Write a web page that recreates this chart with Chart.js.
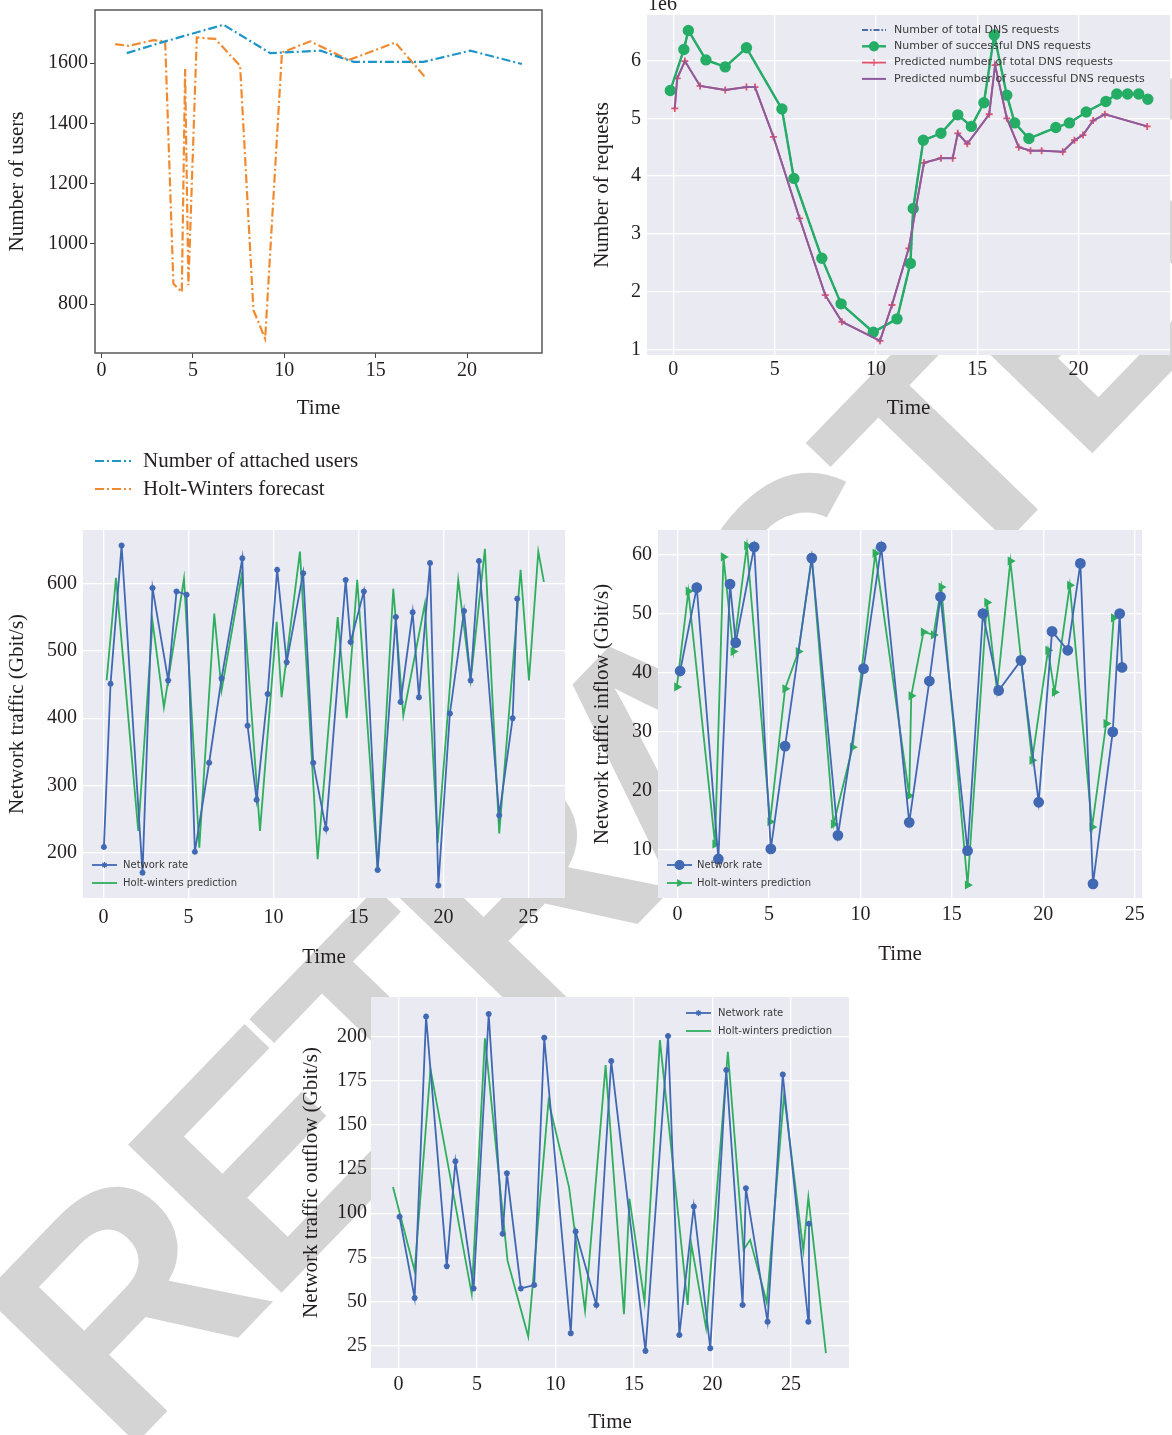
<!DOCTYPE html>
<html>
<head>
<meta charset="utf-8">
<script src="https://cdn.jsdelivr.net/npm/chart.js@4.4.0/dist/chart.umd.min.js"></script>
<style>
  html, body { margin: 0; padding: 0; background: #fff; }
  body { width: 1172px; height: 1435px; position: relative; overflow: hidden; }
  svg.stamp { position: absolute; left: 0; top: 0; }
  canvas { position: absolute; }
  #c1 { left: 0; top: 0; }
  #c2 { left: 580px; top: 0; }
  #c3 { left: 0; top: 515px; }
  #c4 { left: 580px; top: 515px; }
  #c5 { left: 290px; top: 985px; }
  .offset { position: absolute; left: 648px; top: -8px; font: 20px "Liberation Serif", serif; color: #231f20; }
</style>
</head>
<body>
<svg class="stamp" width="1172" height="1435">
  <text x="122" y="1458" transform="rotate(-46 122 1458)" font-family="Liberation Sans, Arial, sans-serif"
        font-weight="bold" font-size="310" letter-spacing="-15" fill="#d4d4d4">RETRACTED</text>
</svg>
<canvas id="c1" width="560" height="512"></canvas>
<canvas id="c2" width="597" height="425"></canvas>
<canvas id="c3" width="580" height="460"></canvas>
<canvas id="c4" width="580" height="460"></canvas>
<canvas id="c5" width="580" height="450"></canvas>
<div class="offset">1e6</div>

<script>
// --- users: attached vs Holt-Winters forecast
const usersTime = [1.38, 3.48, 6.67, 9.23, 11.97, 13.79, 17.62, 20.18, 23.0];
const usersAttached = [1633, 1672, 1727, 1633, 1641, 1604, 1604, 1641, 1597];
const usersHwTime = [0.74, 1.47, 2.84, 3.48, 3.93, 4.39, 4.57, 4.75, 5.21, 6.22, 7.58, 8.31, 8.95, 9.87, 11.42, 13.52, 16.07, 17.72];
const usersHw = [1663, 1657, 1676, 1672, 868, 840, 1580, 863, 1685, 1680, 1591, 780, 686, 1635, 1672, 1610, 1668, 1552];
const usersXTicks = [0, 5, 10, 15, 20];
const usersYTicks = [800, 1000, 1200, 1400, 1600];

// --- DNS requests (values in 1e6)
const dnsTime = [-0.15, 0.52, 0.74, 1.61, 2.56, 3.61, 5.36, 5.95, 7.33, 8.28, 9.87, 11.04, 11.7, 11.84, 12.34, 13.21, 14.04, 14.71, 15.33, 15.84, 16.46, 16.85, 17.55, 18.88, 19.55, 20.38, 21.35, 21.89, 22.42, 22.97, 23.42];
const dnsSuccess = [5.48, 6.19, 6.52, 6.01, 5.89, 6.22, 5.16, 3.96, 2.58, 1.79, 1.30, 1.53, 2.49, 3.44, 4.62, 4.74, 5.06, 4.86, 5.27, 6.44, 5.40, 4.92, 4.65, 4.84, 4.92, 5.11, 5.29, 5.42, 5.42, 5.42, 5.33];
const dnsTotal = [5.48, 6.19, 6.52, 6.01, 5.89, 6.22, 5.16, 3.96, 2.58, 1.79, 1.30, 1.53, 2.49, 3.44, 4.62, 4.74, 5.06, 4.86, 5.27, 6.44, 5.40, 4.92, 4.65, 4.84, 4.92, 5.11, 5.29, 5.42, 5.42, 5.42, 5.33];
const predTime = [0.07, 0.19, 0.57, 1.32, 2.56, 3.61, 4.03, 4.94, 6.23, 7.5, 8.32, 10.2, 10.79, 11.62, 12.37, 13.21, 13.79, 14.04, 14.51, 15.59, 15.88, 16.46, 17.05, 17.63, 18.18, 19.22, 19.8, 20.22, 20.72, 21.3, 23.39];
const predTotal = [5.17, 5.69, 5.99, 5.56, 5.49, 5.54, 5.54, 4.68, 3.27, 1.94, 1.48, 1.15, 1.77, 2.75, 4.23, 4.31, 4.31, 4.74, 4.56, 5.07, 5.92, 5.0, 4.5, 4.44, 4.44, 4.42, 4.62, 4.71, 4.96, 5.07, 4.86];
const predSuccess = [5.17, 5.69, 5.99, 5.56, 5.49, 5.54, 5.54, 4.68, 3.27, 1.94, 1.48, 1.15, 1.77, 2.75, 4.23, 4.31, 4.31, 4.74, 4.56, 5.07, 5.92, 5.0, 4.5, 4.44, 4.44, 4.42, 4.62, 4.71, 4.96, 5.07, 4.86];
const dnsXTicks = [0, 5, 10, 15, 20];
const dnsYTicks = [1, 2, 3, 4, 5, 6];

// --- network traffic
const trafficTime = [0.03, 0.42, 1.07, 2.3, 2.89, 3.81, 4.3, 4.89, 5.38, 6.22, 6.95, 8.17, 8.48, 9.01, 9.66, 10.22, 10.78, 11.75, 12.34, 13.09, 14.25, 14.54, 15.32, 16.13, 17.2, 17.48, 18.19, 18.56, 19.21, 19.7, 20.38, 21.21, 21.6, 22.09, 23.28, 24.07, 24.34];
const trafficRate = [209, 451, 656, 171, 593, 456, 588, 583, 202, 334, 459, 637, 389, 279, 436, 620, 483, 615, 334, 236, 605, 513, 588, 175, 550, 424, 557, 431, 630, 152, 407, 559, 456, 633, 256, 400, 577];
const trafficHwTime = [0.19, 0.74, 2.05, 2.89, 3.56, 4.74, 5.64, 6.52, 6.95, 8.13, 9.21, 10.19, 10.48, 11.56, 12.6, 13.78, 14.31, 14.93, 16.13, 17.05, 17.64, 18.91, 19.66, 20.87, 21.6, 22.44, 23.28, 24.54, 25.03, 25.58, 25.91];
const trafficHw = [456, 608, 233, 543, 416, 607, 208, 555, 441, 612, 233, 543, 431, 647, 191, 550, 400, 605, 175, 592, 404, 570, 215, 605, 456, 651, 229, 620, 456, 647, 602];
const trafficXTicks = [0, 5, 10, 15, 20, 25];
const trafficYTicks = [200, 300, 400, 500, 600];

// --- network traffic inflow
const inflowTime = [0.14, 1.05, 2.23, 2.87, 3.18, 4.19, 5.1, 5.88, 7.34, 8.77, 10.17, 11.14, 12.67, 13.77, 14.38, 15.86, 16.7, 17.56, 18.78, 19.75, 20.48, 21.34, 22.03, 22.72, 23.8, 24.18, 24.31];
const inflowRate = [40.3, 54.4, 8.5, 55, 45.1, 61.3, 10.2, 27.6, 59.4, 12.5, 40.7, 61.3, 14.7, 38.6, 52.85, 9.9, 50, 37, 42.1, 18.1, 47, 43.8, 58.5, 4.3, 30, 50, 40.9];
const inflowHwTime = [-0.04, 0.59, 2.05, 2.51, 3.05, 3.79, 5.06, 5.88, 6.61, 7.34, 8.53, 9.57, 10.81, 12.67, 12.78, 13.45, 14.0, 14.42, 15.86, 16.92, 17.47, 18.2, 19.39, 20.26, 20.62, 21.45, 22.67, 23.44, 23.85];
const inflowHw = [37.6, 53.8, 11, 59.6, 43.6, 61.5, 14.8, 37.3, 43.6, 59.5, 14.4, 27.4, 60.2, 19.2, 36.1, 46.9, 46.4, 54.5, 4.1, 51.9, 37, 58.9, 25.2, 43.8, 36.7, 54.8, 13.9, 31.4, 49.3];
const inflowXTicks = [0, 5, 10, 15, 20, 25];
const inflowYTicks = [10, 20, 30, 40, 50, 60];

// --- network traffic outflow
const outflowTime = [0.06, 1.02, 1.75, 3.07, 3.62, 4.78, 5.74, 6.63, 6.9, 7.79, 8.64, 9.28, 10.97, 11.28, 12.6, 13.55, 15.73, 17.17, 17.89, 18.81, 19.86, 20.88, 21.92, 22.13, 23.51, 24.48, 26.11, 26.15];
const outflowRate = [98, 52, 211.4, 70, 129.4, 57.4, 212.9, 88.3, 122.7, 57.4, 59.3, 199.4, 32, 89.6, 48, 186.2, 22, 200.4, 31, 103.8, 23.5, 181.1, 48, 114.2, 38.5, 178.6, 38.5, 94];
const outflowHwTime = [-0.36, 1.02, 2.03, 4.66, 5.5, 6.94, 8.26, 9.55, 10.86, 11.88, 13.19, 14.36, 14.71, 15.67, 16.65, 18.42, 18.65, 19.59, 20.98, 21.98, 22.4, 23.46, 24.56, 25.79, 26.11, 27.23];
const outflowHw = [114.8, 67.4, 181.6, 54.2, 199.1, 73.1, 30.1, 163.5, 114.8, 44.7, 183.9, 42.8, 108.2, 49.8, 198.1, 48, 82.6, 35.2, 191.5, 79.2, 84.9, 49.4, 167, 78.8, 109.1, 20.7];
const outflowXTicks = [0, 5, 10, 15, 20, 25];
const outflowYTicks = [25, 50, 75, 100, 125, 150, 175, 200];

const zip = (xs, ys) => xs.map((x, i) => ({ x: x, y: ys[i] }));
const SERIF = '"Liberation Serif", "Times New Roman", serif';
const INK = '#231f20';
const BLUE = '#4169b3';
const GREEN = '#2fae5e';

// draws a matplotlib-like legend at fixed canvas spots
const sampleLegend = {
  id: 'sampleLegend',
  afterDraw(chart, args, o) {
    if (!o.show) return;
    const ctx = chart.ctx;
    ctx.save();
    chart.data.datasets.forEach((ds, i) => {
      const y = o.y + i * o.rowGap;
      ctx.strokeStyle = ds.borderColor;
      ctx.fillStyle = ds.borderColor;
      ctx.lineWidth = ds.borderWidth;
      ctx.setLineDash(ds.borderDash || []);
      ctx.beginPath();
      ctx.moveTo(o.x, y);
      ctx.lineTo(o.x + o.len, y);
      ctx.stroke();
      ctx.setLineDash([]);
      if (ds.pointRadius > 0) {
        ctx.lineWidth = 1.2;
        Chart.helpers.drawPoint(ctx, { pointStyle: ds.pointStyle, radius: ds.pointRadius, borderWidth: 1.2, rotation: ds.pointRotation || 0 }, o.x + o.len / 2, y);
      }
      ctx.fillStyle = o.color;
      ctx.font = o.font;
      ctx.textBaseline = 'middle';
      ctx.fillText(ds.label, o.x + o.len + o.gap, y);
    });
    ctx.restore();
  }
};

// grey seaborn background or black box frame
const panel = {
  id: 'panel',
  beforeDraw(chart, args, o) {
    if (!o.fill) return;
    const a = chart.chartArea, ctx = chart.ctx;
    ctx.save();
    ctx.fillStyle = o.fill;
    ctx.fillRect(a.left, a.top, a.right - a.left, a.bottom - a.top);
    ctx.restore();
  },
  afterDraw(chart, args, o) {
    if (!o.frame) return;
    const a = chart.chartArea, ctx = chart.ctx;
    ctx.save();
    ctx.strokeStyle = o.frame;
    ctx.lineWidth = 1.5;
    ctx.strokeRect(a.left, a.top, a.right - a.left, a.bottom - a.top);
    ctx.restore();
  }
};

function fixedTicks(list) {
  return scale => { scale.ticks = list.map(v => ({ value: v })); };
}

function makeChart(id, cfg) {
  const seaborn = cfg.seaborn;
  const grid = seaborn
    ? { color: '#ffffff', lineWidth: 1.3, drawTicks: false }
    : { drawOnChartArea: false, drawTicks: true, tickLength: 5, color: '#444' };
  return new Chart(document.getElementById(id), {
    type: 'line',
    data: { datasets: cfg.datasets },
    options: {
      responsive: false,
      animation: false,
      events: [],
      layout: { padding: cfg.padding },
      scales: {
        x: {
          type: 'linear', min: cfg.x.min, max: cfg.x.max,
          afterBuildTicks: fixedTicks(cfg.x.ticks),
          afterFit: s => { s.height = cfg.x.size; s.paddingLeft = 0; s.paddingRight = 0; },
          grid: grid, border: { display: false },
          ticks: { color: INK, font: { family: SERIF, size: 20 }, padding: cfg.x.tickPad, maxRotation: 0, callback: v => String(v) },
          title: { display: true, text: 'Time', color: INK, font: { family: SERIF, size: 21 }, padding: { top: 0, bottom: cfg.x.titlePad } }
        },
        y: {
          type: 'linear', min: cfg.y.min, max: cfg.y.max,
          afterBuildTicks: fixedTicks(cfg.y.ticks),
          afterFit: s => { s.width = cfg.y.size; s.paddingTop = 0; s.paddingBottom = 0; },
          grid: grid, border: { display: false },
          ticks: { color: INK, font: { family: SERIF, size: 20 }, padding: cfg.y.tickPad, callback: v => String(v) },
          title: { display: true, text: cfg.y.title, color: INK, font: { family: SERIF, size: 21 }, padding: { top: cfg.y.titlePad, bottom: 0 } }
        }
      },
      plugins: {
        legend: { display: false },
        tooltip: { enabled: false },
        panel: seaborn ? { fill: '#eaeaf2' } : { frame: '#595959' },
        sampleLegend: cfg.legend
      }
    },
    plugins: [panel, sampleLegend]
  });
}

function line(label, xs, ys, color, extra) {
  return Object.assign({
    label: label, data: zip(xs, ys), borderColor: color, backgroundColor: color,
    pointBackgroundColor: color, pointBorderColor: color,
    borderWidth: 1.8, pointRadius: 0, tension: 0, fill: false
  }, extra || {});
}

makeChart('c1', {
  seaborn: false,
  padding: { left: 0, top: 10, right: 18, bottom: 0 },
  x: { min: -0.36, max: 24.1, ticks: usersXTicks, size: 159, tickPad: 1, titlePad: 91 },
  y: { min: 638, max: 1776, ticks: usersYTicks, size: 95, tickPad: 2, titlePad: 5, title: 'Number of users' },
  datasets: [
    line('Number of attached users', usersTime, usersAttached, '#1e95c8', { borderWidth: 2.2, borderDash: [9, 3, 2, 3] }),
    line('Holt-Winters forecast', usersHwTime, usersHw, '#f08a30', { borderWidth: 2.2, borderDash: [9, 3, 2, 3] })
  ],
  legend: { show: true, x: 95, y: 461, rowGap: 28, len: 36, gap: 12, font: '21px ' + SERIF, color: INK }
});

makeChart('c2', {
  seaborn: true,
  padding: { left: 0, top: 15, right: 0, bottom: 0 },
  x: { min: -1.3, max: 24.52, ticks: dnsXTicks, size: 70, tickPad: 3, titlePad: 4 },
  y: { min: 0.905, max: 6.787, ticks: dnsYTicks, size: 67, tickPad: 6, titlePad: 10, title: 'Number of requests' },
  datasets: [
    line('Number of total DNS requests', dnsTime, dnsTotal, '#4a6aa8', { borderDash: [6, 2, 1.5, 2], order: 4 }),
    line('Number of successful DNS requests', dnsTime, dnsSuccess, '#25ad66', { borderWidth: 2.4, pointRadius: 4.5, order: 2 }),
    line('Predicted number of total DNS requests', predTime, predTotal, '#e4536e', { pointStyle: 'cross', pointRadius: 3.5, order: 3 }),
    line('Predicted number of successful DNS requests', predTime, predSuccess, '#8d5c9c', { borderWidth: 2, order: 1 })
  ],
  legend: { show: true, x: 282, y: 30, rowGap: 16.3, len: 24, gap: 8, font: '11px "DejaVu Sans", sans-serif', color: '#3a3a3a' }
});

makeChart('c3', {
  seaborn: true,
  padding: { left: 0, top: 15, right: 15, bottom: 0 },
  x: { min: -1.2, max: 27.15, ticks: trafficXTicks, size: 77, tickPad: 8, titlePad: 5 },
  y: { min: 133.5, max: 679, ticks: trafficYTicks, size: 83, tickPad: 6, titlePad: 5, title: 'Network traffic (Gbit/s)' },
  datasets: [
    line('Network rate', trafficTime, trafficRate, BLUE, { pointStyle: 'star', pointRadius: 3 }),
    line('Holt-winters prediction', trafficHwTime, trafficHw, GREEN, {})
  ],
  legend: { show: true, x: 92, y: 350, rowGap: 18, len: 25, gap: 6, font: '10px "DejaVu Sans", sans-serif', color: '#3a3a3a' }
});

makeChart('c4', {
  seaborn: true,
  padding: { left: 0, top: 15, right: 18, bottom: 0 },
  x: { min: -1.07, max: 25.4, ticks: inflowXTicks, size: 77, tickPad: 5, titlePad: 8 },
  y: { min: 1.9, max: 64.15, ticks: inflowYTicks, size: 78, tickPad: 6, titlePad: 10, title: 'Network traffic inflow (Gbit/s)' },
  datasets: [
    line('Network rate', inflowTime, inflowRate, BLUE, { pointRadius: 4.5 }),
    line('Holt-winters prediction', inflowHwTime, inflowHw, GREEN, { pointStyle: 'triangle', pointRotation: 90, pointRadius: 3.5 })
  ],
  legend: { show: true, x: 87, y: 350, rowGap: 18, len: 25, gap: 5, font: '10px "DejaVu Sans", sans-serif', color: '#3a3a3a' }
});

makeChart('c5', {
  seaborn: true,
  padding: { left: 0, top: 12, right: 21, bottom: 0 },
  x: { min: -1.76, max: 28.7, ticks: outflowXTicks, size: 67, tickPad: 5, titlePad: 0 },
  y: { min: 12.3, max: 222.5, ticks: outflowYTicks, size: 81, tickPad: 4, titlePad: 9, title: 'Network traffic outflow (Gbit/s)' },
  datasets: [
    line('Network rate', outflowTime, outflowRate, BLUE, { pointStyle: 'star', pointRadius: 3 }),
    line('Holt-winters prediction', outflowHwTime, outflowHw, GREEN, {})
  ],
  legend: { show: true, x: 396, y: 28, rowGap: 18, len: 25, gap: 7, font: '10px "DejaVu Sans", sans-serif', color: '#3a3a3a' }
});
</script>
</body>
</html>
